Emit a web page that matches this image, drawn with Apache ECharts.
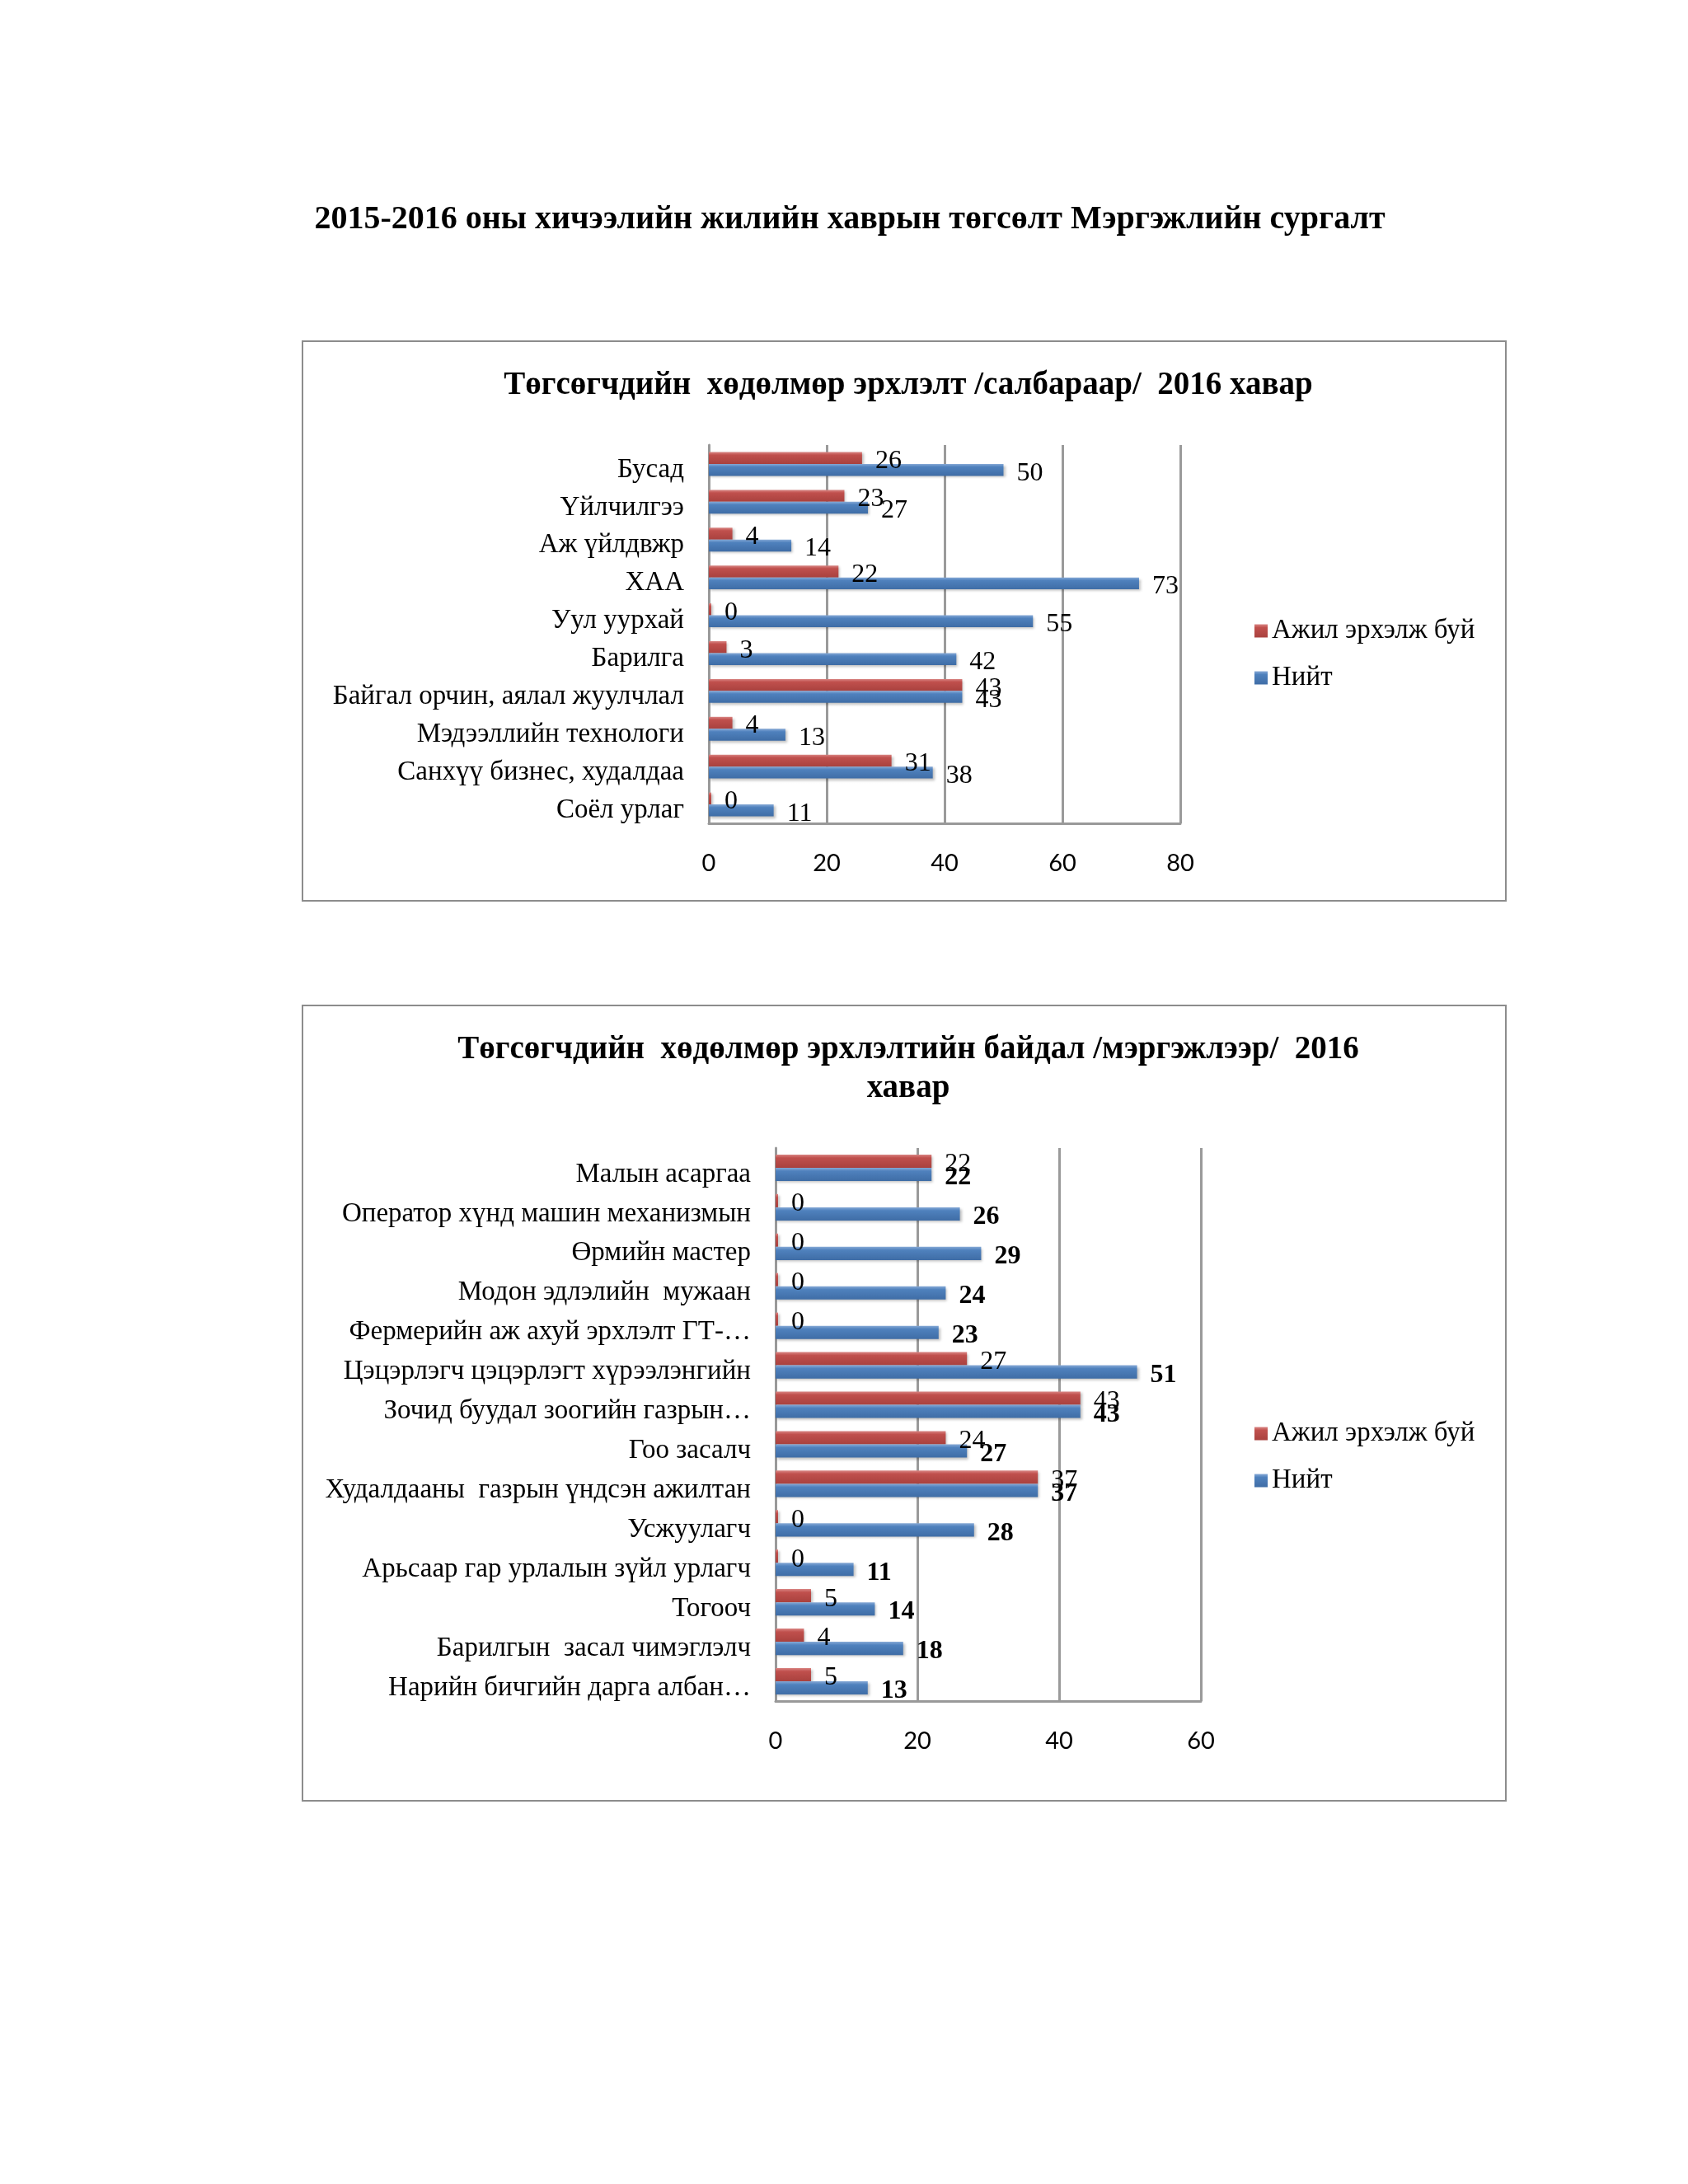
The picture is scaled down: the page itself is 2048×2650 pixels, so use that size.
<!DOCTYPE html>
<html><head><meta charset="utf-8">
<script src="https://cdn.jsdelivr.net/npm/echarts@6/dist/echarts.min.js"></script>
<style>html,body{margin:0;padding:0;background:#fff}#c{width:2048px;height:2650px}</style>
</head><body><div id="c"></div>
<script>
const pageTitle = '2015-2016 оны хичээлийн жилийн хаврын төгсөлт Мэргэжлийн сургалт';
const title1 = 'Төгсөгчдийн  хөдөлмөр эрхлэлт /салбараар/  2016 хавар';
const title2 = 'Төгсөгчдийн  хөдөлмөр эрхлэлтийн байдал /мэргэжлээр/  2016\nхавар';
const seriesNames = ['Ажил эрхэлж буй', 'Нийт'];

const cats1 = ['Бусад','Үйлчилгээ','Аж үйлдвжр','ХАА','Уул уурхай','Барилга','Байгал орчин, аялал жуулчлал','Мэдээллийн технологи','Санхүү бизнес, худалдаа','Соёл урлаг'];
const employed1 = [26,23,4,22,0,3,43,4,31,0];
const total1 = [50,27,14,73,55,42,43,13,38,11];
const ticks1 = [0,20,40,60,80];

const cats2 = ['Малын асаргаа','Оператор хүнд машин механизмын','Өрмийн мастер','Модон эдлэлийн  мужаан','Фермерийн аж ахуй эрхлэлт ГТ-…','Цэцэрлэгч цэцэрлэгт хүрээлэнгийн','Зочид буудал зоогийн газрын…','Гоо засалч','Худалдааны  газрын үндсэн ажилтан','Усжуулагч','Арьсаар гар урлалын зүйл урлагч','Тогооч','Барилгын  засал чимэглэлч','Нарийн бичгийн дарга албан…'];
const employed2 = [22,0,0,0,0,27,43,24,37,0,0,5,4,5];
const total2 = [22,26,29,24,23,51,43,27,37,28,11,14,18,13];
const ticks2 = [0,20,40,60];

const RED = '#C0504D', BLUE = '#4F81BD';
const SERIF = '"Liberation Serif","Times New Roman",serif';
const SANS = 'Lato,"Liberation Sans",sans-serif';

function grad(c1, c2, c3){
  return {type:'linear',x:0,y:0,x2:0,y2:1,colorStops:[{offset:0,color:c1},{offset:0.25,color:c2},{offset:1,color:c3}]};
}
const redFill = grad('#D98583', RED, '#A9413E');
const blueFill = grad('#86A9D6', BLUE, '#3F6DA6');

function xAxisFor(gi, ticks){
  return {
    type:'value', gridIndex:gi, min:ticks[0], max:ticks[ticks.length-1], interval:ticks[1]-ticks[0],
    axisLine:{show:true,lineStyle:{color:'#999',width:3}}, axisTick:{show:false},
    axisLabel:{fontFamily:SANS,fontSize:29,color:'#000',margin:34},
    splitLine:{show:true,lineStyle:{color:'#9a9a9a',width:3}}
  };
}
function yAxisFor(gi, cats, lh){
  return {
    type:'category', gridIndex:gi, data:cats, inverse:true,
    axisLine:{show:true,lineStyle:{color:'#999',width:3}}, axisTick:{show:false},
    axisLabel:{fontFamily:SERIF,fontSize:33,color:'#000',margin:30,interval:0,verticalAlign:'top',lineHeight:lh}
  };
}
function barSeries(gi, name, data, fill, bold, catGap){
  return {
    type:'bar', name:name, xAxisIndex:gi, yAxisIndex:gi, data:data,
    barGap:'0%', barCategoryGap:catGap, barMinHeight:3,
    itemStyle:{color:fill, shadowColor:'rgba(0,0,0,0.25)', shadowBlur:3, shadowOffsetX:2, shadowOffsetY:2},
    label:{show:true, position:'right', distance:16, offset:[0,4], fontFamily:SERIF, fontSize:32,
      fontWeight: bold ? 'bold' : 'normal', color:'#000'},
    emphasis:{disabled:true}, animation:false
  };
}

const chart = echarts.init(document.getElementById('c'), null, {renderer:'canvas'});
chart.setOption({
  backgroundColor:'#fff',
  animation:false,
  title:[
    {text:pageTitle, left:1026, top:242, textAlign:'center', textStyle:{fontFamily:SERIF,fontWeight:'bold',fontSize:40,color:'#000'}},
    {text:title1, left:1097, top:443, textAlign:'center', textStyle:{fontFamily:SERIF,fontWeight:'bold',fontSize:39,color:'#000'}},
    {text:title2, left:1097, top:1245, textAlign:'center', textStyle:{fontFamily:SERIF,fontWeight:'bold',fontSize:39,color:'#000',lineHeight:47}}
  ],
  graphic:[
    {type:'rect', shape:{x:367,y:414,width:1460,height:679}, style:{fill:'none',stroke:'#8c8c8c',lineWidth:2}, z:-1},
    {type:'rect', shape:{x:367,y:1220,width:1460,height:965}, style:{fill:'none',stroke:'#8c8c8c',lineWidth:2}, z:-1}
  ],
  legend:[
    {data:seriesNames, orient:'vertical', left:1517, top:744, itemWidth:16, itemHeight:16, itemGap:24,
      icon:'rect', textStyle:{fontFamily:SERIF,fontSize:33,color:'#000'}, selectedMode:false},
    {data:seriesNames, orient:'vertical', left:1517, top:1718, itemWidth:16, itemHeight:16, itemGap:24,
      icon:'rect', textStyle:{fontFamily:SERIF,fontSize:33,color:'#000'}, selectedMode:false}
  ],
  grid:[
    {left:860, top:540, width:572, height:459},
    {left:941, top:1393, width:516, height:671}
  ],
  xAxis:[xAxisFor(0, ticks1), xAxisFor(1, ticks2)],
  yAxis:[yAxisFor(0, cats1, 14), yAxisFor(1, cats2, 16)],
  series:[
    barSeries(0, seriesNames[0], employed1, redFill, false, '37%'),
    barSeries(0, seriesNames[1], total1, blueFill, false, '37%'),
    barSeries(1, seriesNames[0], employed2, redFill, false, '33%'),
    barSeries(1, seriesNames[1], total2, blueFill, true, '33%')
  ]
});
</script></body></html>
